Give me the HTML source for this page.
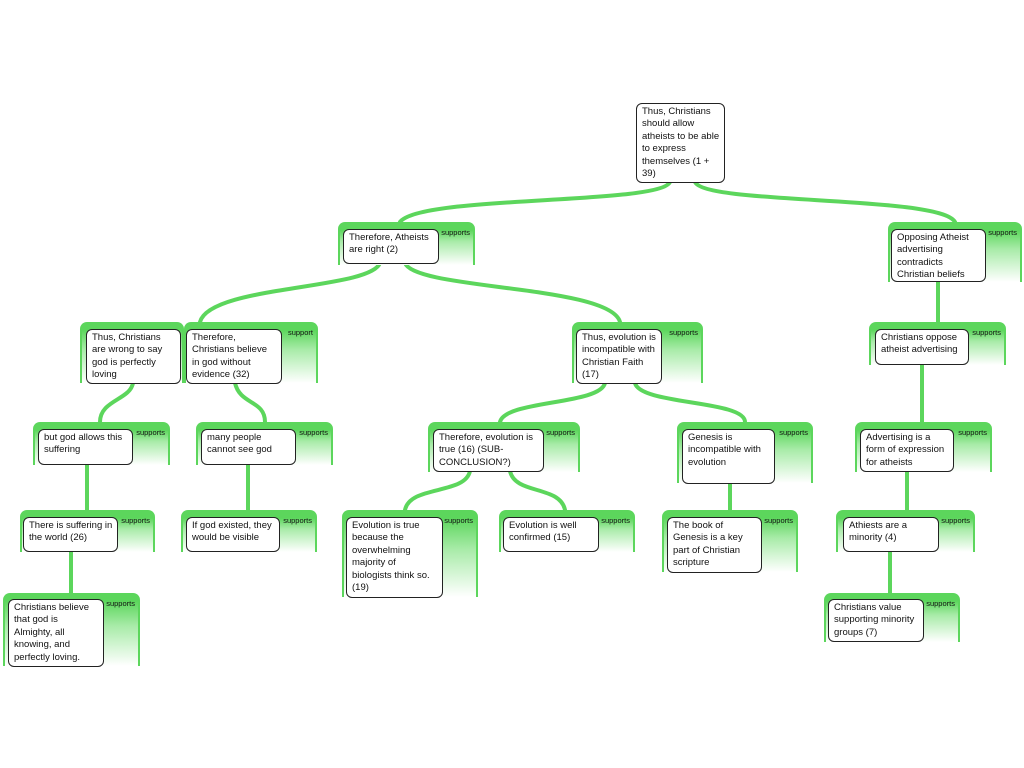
<!DOCTYPE html>
<html><head><meta charset="utf-8"><style>
body{margin:0;width:1024px;height:768px;background:#fff;position:relative;overflow:hidden;font-family:"Liberation Sans",sans-serif;}
.c{position:absolute;border-radius:7px 7px 0 0;background:linear-gradient(#5cd65c 0,#5cd65c 8px,#a8eba8 45%,#fff 100%);}
.c::before{content:"";position:absolute;left:0;right:0;top:7px;bottom:0;border-left:2px solid #5cd65c;border-right:2px solid #5cd65c;}
.c span{position:absolute;right:5px;top:6px;font-size:7.5px;color:#111;}
.b{position:absolute;background:#fff;border:1px solid #222;border-radius:6px;font-size:9.5px;line-height:12.4px;color:#111;padding:2px 3px 2px 5px;box-sizing:border-box;white-space:nowrap;overflow:visible;}
svg{position:absolute;left:0;top:0;}
</style></head><body>
<svg width="1024" height="768"><g fill="none" stroke="#5cd65c" stroke-width="4" stroke-linecap="round">
<path d="M670 182 C660 205,420 195,400 222"/>
<path d="M695 182 C705 205,940 195,955 222"/>
<path d="M380 263 C370 290,210 285,200 322"/>
<path d="M405 263 C415 290,610 285,620 322"/>
<path d="M133 383 C130 400,100 400,100 422"/>
<path d="M235 383 C240 405,265 400,265 422"/>
<path d="M605 383 C600 405,505 400,500 422"/>
<path d="M635 383 C640 405,745 400,745 422"/>
<path d="M938 282 L938 322"/>
<path d="M922 364 L922 422"/>
<path d="M87 464 L87 510"/>
<path d="M248 464 L248 510"/>
<path d="M470 471 C465 495,410 485,405 510"/>
<path d="M510 471 C515 495,560 485,565 510"/>
<path d="M730 483 L730 510"/>
<path d="M907 471 L907 510"/>
<path d="M71 551 L71 593"/>
<path d="M890 551 L890 593"/>
</g></svg>

<div class="c" style="left:338px;top:222px;width:137px;height:43px"><span>supports</span></div>
<div class="b" style="left:343px;top:229px;width:96px;height:35px">Therefore, Atheists<br>are right (2)</div>

<div class="c" style="left:888px;top:222px;width:134px;height:60px"><span>supports</span></div>
<div class="b" style="left:891px;top:229px;width:95px;height:53px">Opposing Atheist<br>advertising<br>contradicts<br>Christian beliefs</div>

<div class="c" style="left:80px;top:322px;width:104px;height:61px"></div>
<div class="c" style="left:184px;top:322px;width:134px;height:61px"><span>support</span></div>
<div class="b" style="left:86px;top:329px;width:95px;height:55px">Thus, Christians<br>are wrong to say<br>god is perfectly<br>loving</div>
<div class="b" style="left:186px;top:329px;width:96px;height:55px">Therefore,<br>Christians believe<br>in god without<br>evidence (32)</div>

<div class="c" style="left:572px;top:322px;width:131px;height:61px"><span>supports</span></div>
<div class="b" style="left:576px;top:329px;width:86px;height:55px">Thus, evolution is<br>incompatible with<br>Christian Faith<br>(17)</div>

<div class="c" style="left:869px;top:322px;width:137px;height:43px"><span>supports</span></div>
<div class="b" style="left:875px;top:329px;width:94px;height:36px">Christians oppose<br>atheist advertising</div>

<div class="c" style="left:33px;top:422px;width:137px;height:43px"><span>supports</span></div>
<div class="b" style="left:38px;top:429px;width:95px;height:36px">but god allows this<br>suffering</div>

<div class="c" style="left:196px;top:422px;width:137px;height:43px"><span>supports</span></div>
<div class="b" style="left:201px;top:429px;width:95px;height:36px">many people<br>cannot see god</div>

<div class="c" style="left:428px;top:422px;width:152px;height:50px"><span>supports</span></div>
<div class="b" style="left:433px;top:429px;width:111px;height:43px">Therefore, evolution is<br>true (16) (SUB-<br>CONCLUSION?)</div>

<div class="c" style="left:677px;top:422px;width:136px;height:61px"><span>supports</span></div>
<div class="b" style="left:682px;top:429px;width:93px;height:55px">Genesis is<br>incompatible with<br>evolution</div>

<div class="c" style="left:855px;top:422px;width:137px;height:50px"><span>supports</span></div>
<div class="b" style="left:860px;top:429px;width:94px;height:43px">Advertising is a<br>form of expression<br>for atheists</div>

<div class="c" style="left:20px;top:510px;width:135px;height:42px"><span>supports</span></div>
<div class="b" style="left:23px;top:517px;width:95px;height:35px">There is suffering in<br>the world (26)</div>

<div class="c" style="left:181px;top:510px;width:136px;height:42px"><span>supports</span></div>
<div class="b" style="left:186px;top:517px;width:94px;height:35px">If god existed, they<br>would be visible</div>

<div class="c" style="left:342px;top:510px;width:136px;height:87px"><span>supports</span></div>
<div class="b" style="left:346px;top:517px;width:97px;height:81px">Evolution is true<br>because the<br>overwhelming<br>majority of<br>biologists think so.<br>(19)</div>

<div class="c" style="left:499px;top:510px;width:136px;height:42px"><span>supports</span></div>
<div class="b" style="left:503px;top:517px;width:96px;height:35px">Evolution is well<br>confirmed (15)</div>

<div class="c" style="left:662px;top:510px;width:136px;height:62px"><span>supports</span></div>
<div class="b" style="left:667px;top:517px;width:95px;height:56px">The book of<br>Genesis is a key<br>part of Christian<br>scripture</div>

<div class="c" style="left:836px;top:510px;width:139px;height:42px"><span>supports</span></div>
<div class="b" style="left:843px;top:517px;width:96px;height:35px">Athiests are a<br>minority (4)</div>

<div class="c" style="left:3px;top:593px;width:137px;height:73px"><span>supports</span></div>
<div class="b" style="left:8px;top:599px;width:96px;height:68px">Christians believe<br>that god is<br>Almighty, all<br>knowing, and<br>perfectly loving.</div>

<div class="c" style="left:824px;top:593px;width:136px;height:49px"><span>supports</span></div>
<div class="b" style="left:828px;top:599px;width:96px;height:43px">Christians value<br>supporting minority<br>groups (7)</div>

<div class="b" style="left:636px;top:103px;width:89px;height:80px">Thus, Christians<br>should allow<br>atheists to be able<br>to express<br>themselves (1 +<br>39)</div>
</body></html>
